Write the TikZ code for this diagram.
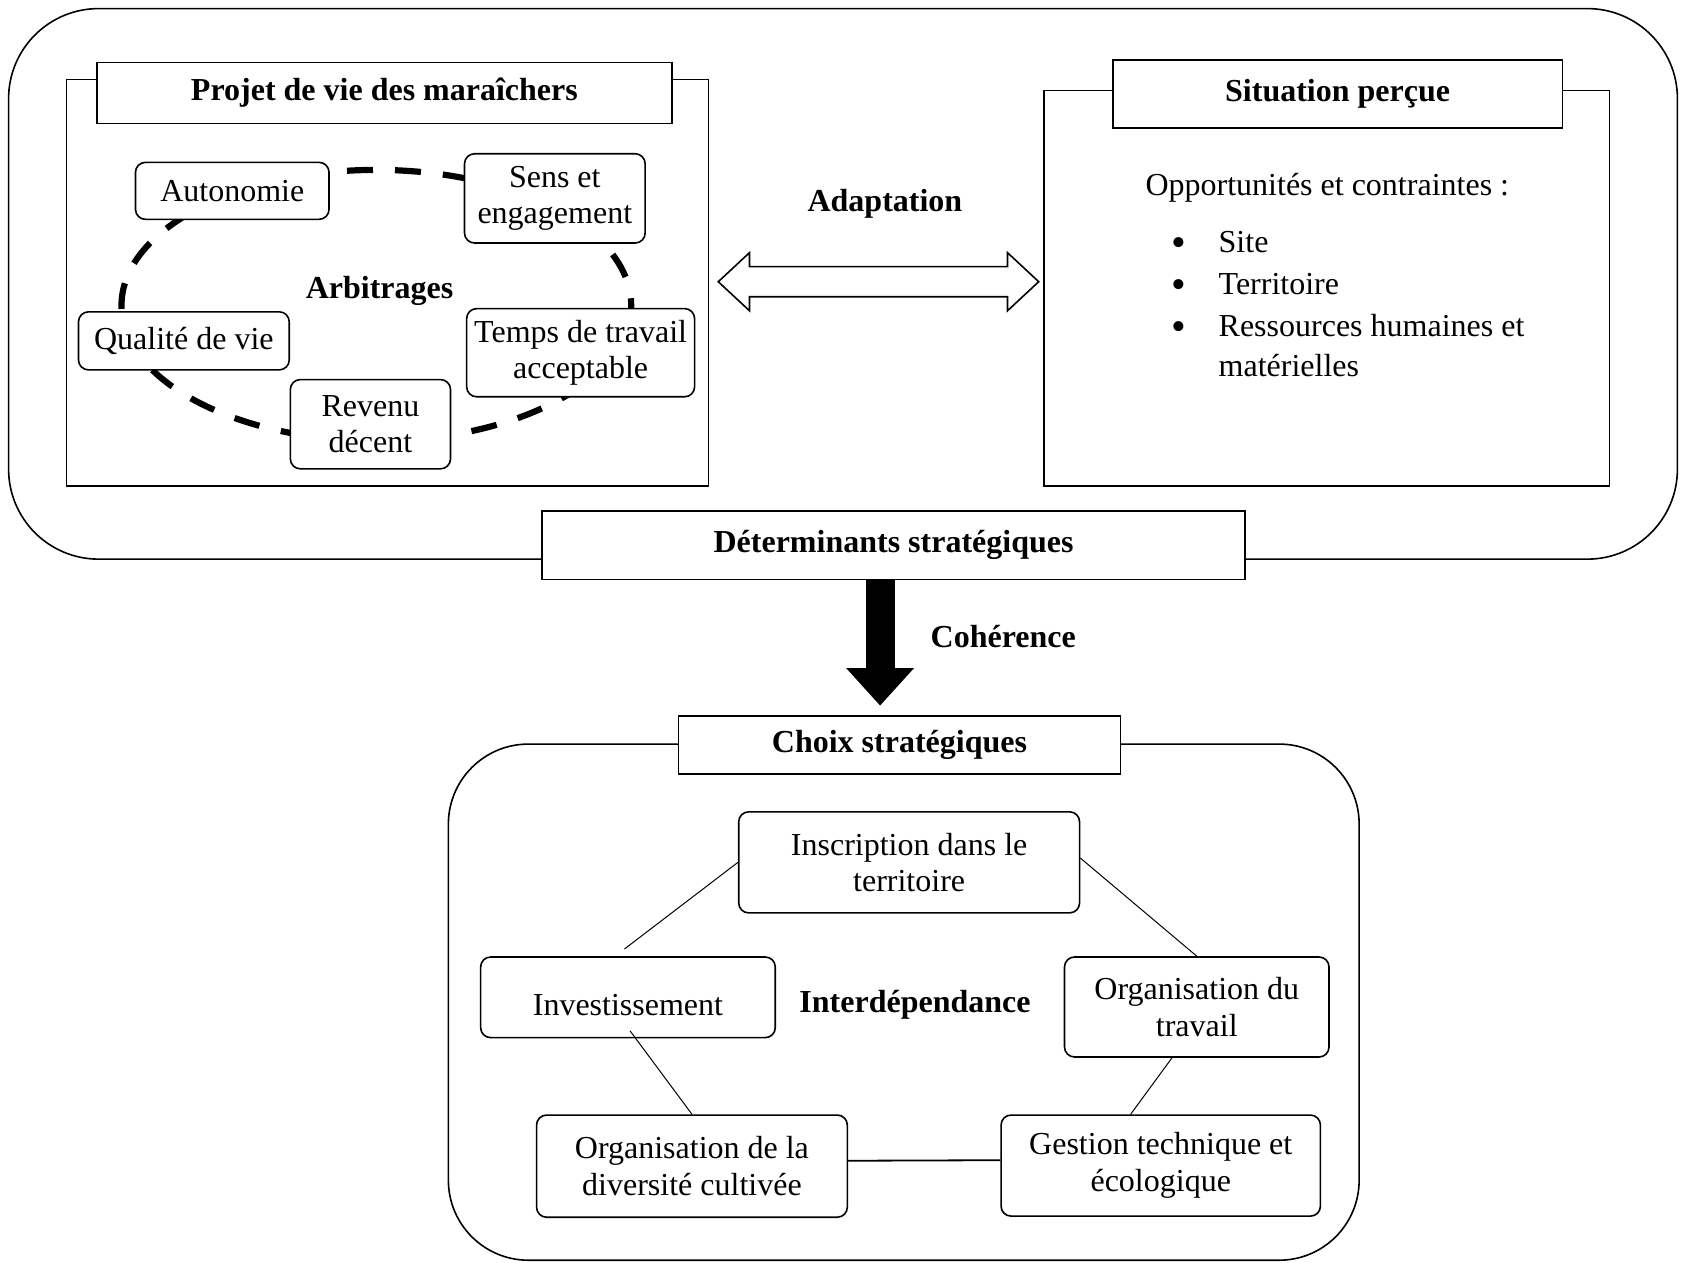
\documentclass[tikz,border=0pt]{standalone}
\usepackage{fontspec}
\setmainfont{Liberation Serif}
\usetikzlibrary{arrows.meta, positioning, calc}
\newcommand{\police}{\fontsize{16}{18.3}\selectfont}
\def\px{0.5376pt}
\tikzset{
  cadre/.style={rectangle, draw=black, line width=0.8pt, fill=white, inner sep=0pt},
  titre/.style={rectangle, draw=black, line width=0.8pt, fill=white, font=\police\bfseries, inner sep=0pt},
  boite/.style={rectangle, rounded corners=5pt, draw=black, line width=0.8pt, fill=white,
                font=\police, align=center, inner sep=0pt},
  motcle/.style={font=\police\bfseries, inner sep=0pt},
  texte/.style={font=\police, anchor=base west, inner sep=0pt},
  puce/.style={font=\fontsize{21}{21}\selectfont, anchor=base, inner sep=0pt},
  lien/.style={line width=0.5pt},
  arbitr/.style={line width=3.1pt, dash pattern=on 13pt off 11pt},
  grosse/.style={line width=14.5pt, -{Triangle[length=18.8pt, width=32.8pt]}},
  creux/.style={line width=0.8pt, fill=white, line join=miter}
}

\begin{document}
\begin{tikzpicture}[x=\px, y=-\px]
  \useasboundingbox (0,0) rectangle (1568,1174);
  \draw[line width=0.8pt, rounded corners=45pt] (8,8) rectangle (1560,520);
  \draw[line width=0.8pt, rounded corners=40pt] (417,692) rectangle (1264,1172);

  \node (projet) [cadre, minimum width=597*\px, minimum height=378*\px] at (360.5,263) {};
  \node (projett) [titre, minimum width=535*\px, minimum height=57*\px] at (357.5,86.5) {Projet de vie des maraîchers};
  \node (situation) [cadre, minimum width=526*\px, minimum height=368*\px] at (1234,268) {};
  \node (situationt) [titre, minimum width=418*\px, minimum height=63*\px] at (1244,87.5) {Situation perçue};

  \draw[arbitr] (350,284) ellipse [x radius=237, y radius=126];
  \node (auto) [boite, minimum width=180*\px, minimum height=53*\px] at (216,177.5) {Autonomie};
  \node (sens) [boite, minimum width=168*\px, minimum height=83*\px] at (516,184.5) {Sens et\\engagement};
  \node (qualite) [boite, minimum width=196*\px, minimum height=54*\px] at (171,317) {Qualité de vie};
  \node (temps) [boite, minimum width=212*\px, minimum height=82*\px] at (540,328) {Temps de travail\\acceptable};
  \node (revenu) [boite, minimum width=149*\px, minimum height=83*\px] at (344.5,394.5) {Revenu\\décent};
  \node (arbitrages) [motcle] at (353,271) {Arbitrages};

  \node (opp) [texte] at (1065,182) {Opportunités et contraintes :};
  \node (b1) [puce] at (1096,239) {\textbullet};
  \node (site) [texte] at (1133,235) {Site};
  \node (b2) [puce] at (1096,278) {\textbullet};
  \node (terr) [texte] at (1133,274) {Territoire};
  \node (b3) [puce] at (1096,317) {\textbullet};
  \node (ress) [texte] at (1133,313) {Ressources humaines et};
  \node (mat) [texte] at (1133,350) {matérielles};

  \node (adaptation) [motcle] at (823,190) {Adaptation};
  \coordinate (adapt) at (817,262);
  \draw[creux, shift={(adapt)}] (-149,0) -- (-120,-27) -- (-120,-14) -- (120,-14) -- (120,-27) -- (149,0)
    -- (120,27) -- (120,14) -- (-120,14) -- (-120,27) -- cycle;

  \node (det) [titre, minimum width=654*\px, minimum height=64*\px] at (831,507) {Déterminants stratégiques};
  \node (choix) [titre, minimum width=411*\px, minimum height=54*\px] at (836.5,693) {Choix stratégiques};
  \draw[grosse, shorten >=9*\px] ([xshift=-12.5*\px]det.south) -- ([xshift=-18*\px]choix.north);
  \node (coherence) [motcle] at (933,592) {Cohérence};

  \node (insc) [boite, minimum width=317*\px, minimum height=94*\px] at (845.5,802) {Inscription dans le\\territoire};
  \node (inv) [boite, minimum width=274*\px, minimum height=75*\px] at (584,927.5) {\raisebox{-9.3pt}[0pt][0pt]{Investissement}};
  \node (orgtrav) [boite, minimum width=246*\px, minimum height=93*\px] at (1113,936.5) {Organisation du\\travail};
  \node (div) [boite, minimum width=289*\px, minimum height=95*\px] at (643.5,1084.5) {Organisation de la\\diversité cultivée};
  \node (gest) [boite, minimum width=297*\px, minimum height=94*\px] at (1079.5,1084) {Gestion technique et\\écologique};
  \node (interdep) [motcle] at (851,934) {Interdépendance};

  \draw[lien, shorten >=11*\px] (insc.west) -- ([xshift=-12*\px]inv.north);
  \draw[lien] ([yshift=4*\px]insc.east) -- (orgtrav.north);
  \draw[lien] ([yshift=7*\px, xshift=2*\px]inv.south) -- (div.north);
  \draw[lien] ([xshift=-23*\px]orgtrav.south) -- ([xshift=-28*\px]gest.north);
  \draw[line width=0.9pt] ([yshift=5*\px]div.east) -- ([yshift=5*\px]gest.west);
\end{tikzpicture}
\end{document}
